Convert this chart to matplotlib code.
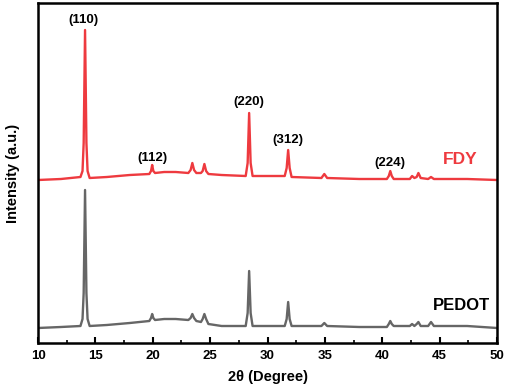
import matplotlib
matplotlib.use('Agg')
import matplotlib.pyplot as plt
from matplotlib.ticker import MultipleLocator

plt.rcParams['font.family'] = ['Liberation Sans', 'DejaVu Sans']
plt.rcParams['font.weight'] = 'bold'

# FDY pattern (2theta, intensity a.u.)
fdy_x = [10.0, 12.0, 13.7, 13.88, 13.98, 14.1, 14.22, 14.32, 14.5, 16.0, 18.0, 19.7,
         19.85, 19.95, 20.05, 20.2, 21.0, 22.0, 23.1, 23.3, 23.45, 23.6, 23.8, 24.2,
         24.35, 24.5, 24.65, 24.85, 26.0, 28.1, 28.27, 28.4, 28.53, 28.7, 30.0, 31.5,
         31.67, 31.8, 31.93, 32.1, 34.7, 34.95, 35.2, 38.0, 40.4, 40.57, 40.7, 40.83,
         41.0, 42.4, 42.6, 42.8, 43.0, 43.15, 43.35, 44.0, 44.25, 44.5, 45.8, 47.4, 50.0]
fdy_y = [163, 164, 166, 172, 200, 313, 200, 172, 165, 166, 168, 169,
         172, 178, 172, 170, 171, 171, 170, 173, 180, 173, 170, 170,
         172, 179, 172, 169, 168, 167, 180, 230, 180, 167, 167, 167,
         175, 193, 175, 166, 165, 169, 165, 164, 164, 167, 172, 167,
         164, 164, 167, 165, 166, 170, 165, 164, 166, 164, 164, 164, 163]

# PEDOT pattern
pedot_x = fdy_x
pedot_y = [15, 16, 17, 24, 50, 153, 50, 24, 17, 18, 20, 22,
           25, 29, 25, 23, 24, 24, 23, 25, 29, 25, 22, 21,
           24, 29, 24, 19, 17, 17, 30, 72, 30, 17, 17, 17,
           24, 41, 24, 17, 17, 20, 17, 16, 16, 19, 22, 19,
           17, 17, 19, 17, 19, 21, 17, 17, 21, 17, 17, 17, 15]

peak_labels = ['(110)', '(112)', '(220)', '(312)', '(224)']
peak_pos = [14.0, 20.0, 28.4, 31.8, 40.7]
peak_lab_y = [323, 185, 241, 203, 180]

fig = plt.figure(figsize=(5.05, 3.92), dpi=100)
fig.subplots_adjust(left=38/505, right=497/505, bottom=1-343/392, top=1-3/392)
ax = fig.add_subplot(111)

ax.plot(fdy_x, fdy_y, color='#ee3a3f', lw=1.7)
ax.plot(pedot_x, pedot_y, color='#666666', lw=1.7)

for lab, xp, yp in zip(peak_labels, peak_pos, peak_lab_y):
    ax.text(xp, yp, lab, ha='center', va='center', fontsize=9.5, fontweight='bold')

ax.text(46.8, 183, 'FDY', color='#ee3a3f', ha='center', va='center', fontsize=12.5, fontweight='bold')
ax.text(46.9, 38, 'PEDOT', color='black', ha='center', va='center', fontsize=12, fontweight='bold')

ax.set_xlim(10, 50)
ax.set_ylim(0, 340)
ax.set_yticks([])
ax.xaxis.set_major_locator(MultipleLocator(5))
ax.xaxis.set_minor_locator(MultipleLocator(2.5))
ax.tick_params(axis='x', which='major', direction='in', length=4, width=1.5, labelsize=9.5, pad=5)
ax.tick_params(axis='x', which='minor', direction='in', length=2, width=1.2)
for lbl in ax.get_xticklabels():
    lbl.set_fontweight('bold')
for s in ax.spines.values():
    s.set_linewidth(1.8)

ax.set_xlabel('2θ (Degree)', fontsize=10.5, fontweight='bold', labelpad=6)
ax.set_ylabel('Intensity (a.u.)', fontsize=10.5, fontweight='bold', labelpad=13)

fig.savefig('out.png', dpi=100)
